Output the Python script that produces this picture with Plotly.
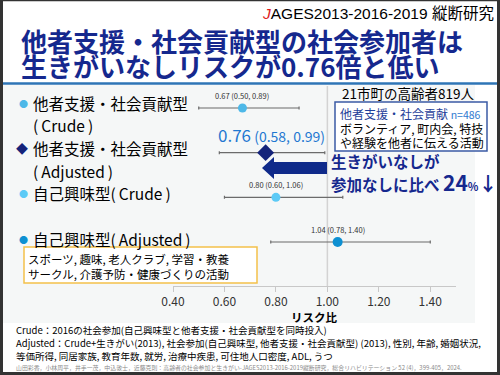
import plotly.graph_objects as go

# ---------------- data ----------------
ROWS = ["他者支援・社会貢献型 (Crude)", "他者支援・社会貢献型 (Adjusted)",
        "自己興味型 (Crude)", "自己興味型 (Adjusted)"]
RR = [0.67, 0.76, 0.80, 1.04]
CI_LO = [0.50, 0.58, 0.60, 0.78]
CI_HI = [0.89, 0.99, 1.06, 1.40]
X_TICKS = [0.40, 0.60, 0.80, 1.00, 1.20, 1.40]
REF_VALUE = 1.0

# ---------------- styles ----------------
FONT = "Noto Sans CJK JP"
NAVY = "#15288e"
MARKER_COLORS = ["#4db8e8", "#14237a", "#5ccaf6", "#0e90d2"]
MARKER_SYMBOLS = ["circle", "diamond", "circle", "circle"]
MARKER_SIZES = [9, 13, 9, 10]

W, H = 500, 375
ML, MR, MT, MB = 173, 44, 86, 89
PW, PH = W - ML - MR, H - MT - MB


def px(x):
    return (x - ML) / PW


def py(y):
    return (H - MB - y) / PH


fig = go.Figure()
for i, name in enumerate(ROWS):
    fig.add_trace(go.Scatter(
        x=[RR[i]], y=[name], mode="markers",
        marker=dict(color=MARKER_COLORS[i], symbol=MARKER_SYMBOLS[i], size=MARKER_SIZES[i]),
        error_x=dict(type="data", symmetric=False,
                     array=[CI_HI[i] - RR[i]], arrayminus=[RR[i] - CI_LO[i]],
                     color="#6b6b6b", thickness=1.2, width=1.5),
        showlegend=False, hoverinfo="skip"))


def txt(text, x, y, size, color="#000000", xa="left", ya="middle", family=FONT):
    shift = {"left": -2, "right": 2, "center": 0}[xa]
    return dict(text=text, x=px(x), y=py(y), xref="paper", yref="paper", xshift=shift,
                xanchor=xa, yanchor=ya, showarrow=False, align="left",
                font=dict(size=size, color=color, family=family))


anns = []
# header / title
anns.append(txt("<span style='color:#e01b1b'><i>J</i></span>AGES2013-2016-2019 縦断研究", 494, 14, 15.5,
                xa="right", family="Liberation Sans, Noto Sans CJK JP"))
anns.append(txt("<b>他者支援・社会貢献型の社会参加者は</b>", 21, 40, 26, NAVY))
anns.append(txt("<b>生きがいなしリスクが0.76倍と低い</b>", 21, 66, 26, NAVY))

# left labels
anns.append(txt("●", 23, 103, 9, MARKER_COLORS[0], xa="center"))
anns.append(txt("他者支援・社会貢献型", 33, 103, 15.5))
anns.append(txt("(\u2009Crude\u2009)", 33, 125, 15.5))
anns.append(txt("◆", 22, 148, 12, MARKER_COLORS[1], xa="center"))
anns.append(txt("他者支援・社会貢献型", 33, 148, 15.5))
anns.append(txt("(\u2009Adjusted\u2009)", 33, 171, 15.5))
anns.append(txt("●", 23, 193, 9, MARKER_COLORS[2], xa="center"))
anns.append(txt("自己興味型(\u2009Crude\u2009)", 33, 193, 15.5))
anns.append(txt("●", 23, 239, 9, MARKER_COLORS[3], xa="center"))
anns.append(txt("自己興味型(\u2009Adjusted\u2009)", 33, 239, 15.5))

# value labels
for i in range(len(ROWS)):
    if i == 1:
        anns.append(dict(
            text=f"<span style='font-size:17px'>{RR[i]:.2f}</span> ({CI_LO[i]:.2f}, {CI_HI[i]:.2f})",
            x=RR[i], y=i, xref="x", yref="y", xshift=6, yshift=18, showarrow=False,
            font=dict(size=14, color="#1f78d1", family=FONT)))
    else:
        anns.append(dict(
            text=f"{RR[i]:.2f} ({CI_LO[i]:.2f}, {CI_HI[i]:.2f})",
            x=RR[i], y=i, xref="x", yref="y", yshift=13, showarrow=False,
            font=dict(size=7.5, color="#333333", family=FONT)))

# right info
anns.append(txt("21市町の高齢者819人", 342, 93, 13.5))
anns.append(txt("他者支援・社会貢献 <span style='font-size:10.5px;color:#2f7ad0'>n=486</span>", 340, 113, 12, "#1f3f9a"))
anns.append(txt("ボランティア, 町内会, 特技", 340, 128, 12))
anns.append(txt("や経験を他者に伝える活動", 340, 142, 12))
anns.append(txt("<b>生きがいなしが</b>", 331, 161, 15.5, NAVY))
anns.append(txt("<b>参加なしに比べ <span style='font-size:21px'>24</span>"
                "<span style='font-size:11px'>%</span><span style='font-size:19px'>↓</span></b>",
                331, 182, 15.5, NAVY))

# orange box text
anns.append(txt("スポーツ, 趣味, 老人クラブ, 学習・教養", 28, 259, 11.5))
anns.append(txt("サークル, 介護予防・健康づくりの活動", 28, 274, 11.5))

# axis title
anns.append(txt("<b>リスク比</b>", 314, 317, 11.5, xa="center"))

# footnotes
anns.append(txt("Crude：2016の社会参加(自己興味型と他者支援・社会貢献型を同時投入)", 16, 330, 9.5))
anns.append(txt("Adjusted：Crude+生きがい(2013), 社会参加(自己興味型, 他者支援・社会貢献型) (2013), 性別, 年齢, 婚姻状況,",
                16, 343, 9.5))
anns.append(txt("等価所得, 同居家族, 教育年数, 就労, 治療中疾患, 可住地人口密度, ADL, うつ", 16, 356, 9.5))
anns.append(txt("山田彩香，小林周平，井手一茂，中込敦士，近藤克則：高齢者の社会参加と生きがい-JAGES2013-2016-2019縦断研究，"
                "総合リハビリテーション 52 (4)，399-405，2024.", 16, 367, 5.9, "#8a8a8a"))


def rect(x0, y0, x1, y1, fill=None, line=None, lw=0, layer="above"):
    d = dict(type="rect", xref="paper", yref="paper",
             x0=px(x0), x1=px(x1), y0=py(y1), y1=py(y0), layer=layer,
             line=dict(width=lw, color=line or "rgba(0,0,0,0)"))
    if fill:
        d["fillcolor"] = fill
    return d


arrow_pts = [(262, 168), (274, 157), (274, 162), (327, 162), (327, 174), (274, 174), (274, 179)]
arrow_path = "M " + " L ".join(f"{px(a):.5f},{py(b):.5f}" for a, b in arrow_pts) + " Z"

shapes = [
    rect(3, 85, 475, 323, fill="#f5f7f7", layer="below"),
    dict(type="line", xref="x", yref="paper", x0=REF_VALUE, x1=REF_VALUE, y0=0, y1=1,
         line=dict(color="#d3d3d3", width=1.5), layer="below"),
    dict(type="line", xref="paper", yref="paper", x0=px(3), x1=px(497), y0=py(83.5), y1=py(83.5),
         line=dict(color="#2e75b6", width=2.5)),
    rect(24, 247, 257, 283, fill="#ffffff", line="#f3c14b", lw=1.5),
    rect(335, 102, 487, 151, fill="#ffffff", line="#3b5ba5", lw=1.5),
    dict(type="path", xref="paper", yref="paper", path=arrow_path,
         fillcolor="#0f2a8a", line=dict(width=0)),
    rect(0, 0, 3, 375, fill="#333333"),
    rect(497, 0, 500, 375, fill="#333333"),
    rect(0, 372, 500, 375, fill="#333333"),
    rect(0, 0, 500, 1.2, fill="#333333"),
]

fig.update_layout(
    width=W, height=H, autosize=False,
    margin=dict(l=ML, r=MR, t=MT, b=MB, pad=0, autoexpand=False),
    paper_bgcolor="#ffffff", plot_bgcolor="rgba(0,0,0,0)",
    font=dict(family=FONT, color="#333333"),
    xaxis=dict(range=[0.4, 1.5], tickvals=X_TICKS, tickformat=".2f",
               showgrid=False, zeroline=False, showline=True, linecolor="#c8c8c8", linewidth=1,
               ticks="outside", ticklen=5, tickcolor="#c8c8c8",
               tickfont=dict(size=12, color="#333333", family=FONT), fixedrange=True),
    yaxis=dict(type="category", categoryorder="array", categoryarray=ROWS,
               range=[3.985, -0.4925], showticklabels=False, showgrid=False,
               zeroline=False, showline=False, ticks="", fixedrange=True),
    annotations=anns, shapes=shapes,
)

fig.write_html("out.html", config={"displayModeBar": False},
               post_script="document.body.style.margin='0';document.body.style.overflow='hidden';")
